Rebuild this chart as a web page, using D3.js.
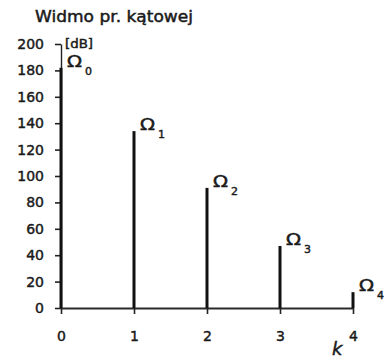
<!DOCTYPE html>
<html><head><meta charset="utf-8">
<script src="https://cdn.jsdelivr.net/npm/d3@7"></script>
<style>
body{margin:0;background:#fff}
text{font-family:"DejaVu Sans","Liberation Sans",sans-serif;fill:#1a1a1a;stroke:#1a1a1a;stroke-width:0.45px}
</style>
</head><body>
<svg id="chart" width="386" height="362"></svg>
<script>
// Angular-velocity spectrum: line heights in dB for harmonics k = 0..4
const harmonics = [0, 1, 2, 3, 4];
const levels = [182, 134, 91, 47, 12];
const subscripts = ["0", "1", "2", "3", "4"];
const yTickValues = [0, 20, 40, 60, 80, 100, 120, 140, 160, 180, 200];
const xTickValues = [0, 1, 2, 3, 4];
const titleText = "Widmo  pr. kątowej";
const unitText = "[dB]";
const xName = "k";

const svg = d3.select("#chart");
const x = d3.scaleLinear().domain([0, 4]).range([61, 353]);
const y = d3.scaleLinear().domain([0, 200]).range([308, 44]);

// title
svg.append("text").attr("x", 35).attr("y", 22)
  .attr("font-size", 15).attr("textLength", 158).attr("lengthAdjust", "spacingAndGlyphs")
  .text(titleText);

// y axis
const yAxis = svg.append("g").attr("transform", `translate(${x(0)},0)`)
  .call(d3.axisLeft(y).tickValues(yTickValues).tickSize(6).tickSizeOuter(0).tickPadding(11));
yAxis.select(".domain").attr("stroke", "#222").attr("stroke-width", 1.4);
yAxis.selectAll(".tick line").attr("stroke", "#222").attr("stroke-width", 1.6);
yAxis.selectAll(".tick text").attr("font-size", 14).attr("font-family", "DejaVu Sans")
  .attr("fill", "#1a1a1a");

// x axis
const xAxis = svg.append("g").attr("transform", `translate(0,${y(0)})`)
  .call(d3.axisBottom(x).tickValues(xTickValues).tickFormat(d3.format("d"))
    .tickSize(6).tickSizeOuter(0).tickPadding(17));
xAxis.select(".domain").attr("stroke", "#2a2a2a").attr("stroke-width", 2);
xAxis.selectAll(".tick line").attr("stroke", "#222").attr("stroke-width", 1.6);
xAxis.selectAll(".tick text").attr("font-size", 14).attr("font-family", "DejaVu Sans")
  .attr("fill", "#1a1a1a");

// spectral lines
svg.append("g").selectAll("line").data(harmonics).join("line")
  .attr("x1", d => x(d)).attr("x2", d => x(d))
  .attr("y1", y(0)).attr("y2", (d, i) => y(levels[i]))
  .attr("stroke", "#111").attr("stroke-width", 3);

// Ω labels
const lab = svg.append("g").selectAll("g").data(harmonics).join("g")
  .attr("transform", (d, i) => `translate(${x(d) + 6},${y(levels[i]) - 1})`);
lab.append("text").attr("font-size", 15).attr("textLength", 15)
  .attr("lengthAdjust", "spacingAndGlyphs").text("Ω");
lab.append("text").attr("x", 18).attr("y", 8).attr("font-size", 11)
  .text((d, i) => subscripts[i]);

// unit
svg.append("text").attr("x", 65).attr("y", 48).attr("font-size", 12)
  .attr("textLength", 28).attr("lengthAdjust", "spacingAndGlyphs").text(unitText);

// axis name
svg.append("text").attr("x", 332).attr("y", 355).attr("font-size", 18)
  .attr("font-style", "italic").attr("font-family", "Liberation Sans").text(xName);
</script>
</body></html>
